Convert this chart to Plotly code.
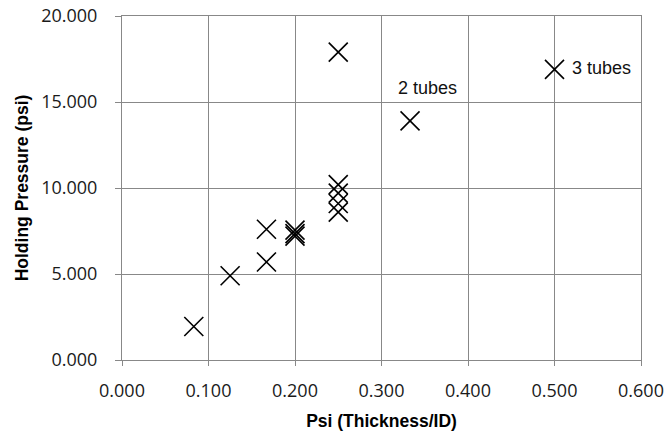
import plotly.graph_objects as go

psi = [0.083, 0.125, 0.167, 0.167, 0.200, 0.200, 0.200, 0.250, 0.250, 0.250, 0.250, 0.250, 0.333, 0.500]
pressure = [1.95, 4.9, 7.6, 5.7, 7.2, 7.35, 7.55, 10.2, 9.7, 9.1, 8.6, 17.9, 13.9, 16.9]

labels = ["2 tubes", "3 tubes"]
label_x = [0.353, 0.5175]
label_y = [15.8, 16.95]

grid = "#888888"
tickfont = dict(family="Open Sans, Liberation Sans, Arial", size=18, color="#1a1a1a")
titlefont = dict(family="Liberation Sans, Arial", size=17.5, color="#000")
labelfont = dict(family="Liberation Sans, Arial", size=18, color="#111")

fig = go.Figure()
fig.add_trace(go.Scatter(
    x=psi, y=pressure, mode="markers",
    marker=dict(symbol="x-thin", size=19, line=dict(width=1.6, color="black"), color="black"),
    showlegend=False, hoverinfo="x+y",
))

fig.add_annotation(x=label_x[0], y=label_y[0], text=labels[0], showarrow=False,
                   xanchor="center", yanchor="middle", font=labelfont)
fig.add_annotation(x=label_x[1], y=label_y[1], text=labels[1], showarrow=False,
                   xanchor="left", yanchor="middle", font=labelfont)

fig.update_layout(
    width=669, height=437,
    margin=dict(l=122, r=28, t=16, b=77),
    paper_bgcolor="white", plot_bgcolor="white",
    xaxis=dict(
        range=[0, 0.6], dtick=0.1, tick0=0, tickformat=".3f",
        showgrid=True, gridcolor=grid, gridwidth=1,
        showline=True, linecolor=grid, linewidth=1, mirror=True,
        ticks="outside", ticklen=5, tickcolor=grid, ticklabelstandoff=9,
        ticklabeloverflow="allow", automargin=False,
        zeroline=False, tickfont=tickfont,
        title=dict(text="<b>Psi (Thickness/ID)</b>", font=titlefont, standoff=14),
    ),
    yaxis=dict(
        range=[0, 20], dtick=5, tick0=0, tickformat=".3f",
        showgrid=True, gridcolor=grid, gridwidth=1,
        showline=True, linecolor=grid, linewidth=1, mirror=True,
        ticks="outside", ticklen=6, tickcolor=grid, ticklabelstandoff=14,
        ticklabeloverflow="allow", automargin=False,
        zeroline=False, tickfont=tickfont,
        title=dict(text="<b>Holding Pressure (psi)</b>", font=titlefont, standoff=8),
    ),
)

fig.write_html(
    "out.html",
    config={"displayModeBar": False},
    post_script="document.body.style.margin='0';document.body.style.overflow='hidden';",
)
